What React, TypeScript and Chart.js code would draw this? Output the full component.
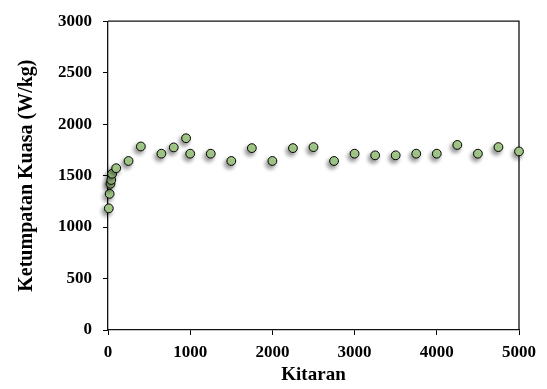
import React, { useEffect, useRef } from "react";
import { Chart, registerables } from "chart.js";

Chart.register(...registerables);

const cycles = [10, 20, 30, 40, 50, 100, 250, 400, 650, 800, 950, 1000, 1250, 1500, 1750, 2000, 2250, 2500, 2750, 3000, 3250, 3500, 3750, 4000, 4250, 4500, 4750, 5000];
const powerDensity = [1182, 1323, 1420, 1458, 1518, 1572, 1642, 1783, 1713, 1774, 1863, 1713, 1713, 1642, 1767, 1642, 1767, 1777, 1642, 1713, 1697, 1697, 1713, 1713, 1798, 1713, 1777, 1735];
const xTitle = "Kitaran";
const yTitle = "Ketumpatan Kuasa (W/kg)";
const xMin = 0, xMax = 5000, xStep = 1000;
const yMin = 0, yMax = 3000, yStep = 500;

const FONT = "'Liberation Serif', 'Times New Roman', serif";

const framePlugin = {
  id: "frame",
  beforeDatasetsDraw(chart: any) {
    const { ctx, chartArea } = chart;
    ctx.save();
    ctx.strokeStyle = "#111";
    ctx.lineWidth = 1.3;
    ctx.beginPath();
    ctx.moveTo(chartArea.left, chartArea.top);
    ctx.lineTo(chartArea.right, chartArea.top);
    ctx.lineTo(chartArea.right, chartArea.bottom);
    ctx.stroke();
    ctx.restore();
  },
  beforeDatasetDraw(chart: any) {
    const ctx = chart.ctx;
    ctx.save();
    ctx.shadowColor = "rgba(0,0,0,0.45)";
    ctx.shadowBlur = 4;
    ctx.shadowOffsetX = -2;
    ctx.shadowOffsetY = 3;
  },
  afterDatasetDraw(chart: any) {
    chart.ctx.restore();
  },
};

export default function App() {
  const ref = useRef<HTMLCanvasElement | null>(null);
  useEffect(() => {
    if (!ref.current) return;
    const chart = new Chart(ref.current, {
      type: "scatter",
      data: {
        datasets: [
          {
            data: cycles.map((x, i) => ({ x, y: powerDensity[i] })),
            backgroundColor: "#a9d18e",
            borderColor: "#000",
            borderWidth: 1,
            pointRadius: 4.4,
            clip: false as any,
          },
        ],
      },
      options: {
        animation: false,
        responsive: false,
        layout: { padding: { left: 0, right: 28, top: 17, bottom: 0 } },
        plugins: { legend: { display: false }, tooltip: { enabled: false } },
        scales: {
          x: {
            type: "linear",
            min: xMin,
            max: xMax,
            afterFit(scale: any) { scale.height = 59; },
            ticks: {
              stepSize: xStep,
              padding: 7,
              color: "#000",
              font: { family: FONT, size: 17, weight: "bold" },
              callback: (v: any) => String(v),
            },
            grid: { drawOnChartArea: false, tickLength: 5, color: "#000", tickColor: "#000" },
            border: { color: "#111", width: 1.3 },
            title: {
              display: true,
              text: xTitle,
              color: "#000",
              font: { family: FONT, size: 19, weight: "bold" },
              padding: { top: 0, bottom: 3 },
            },
          },
          y: {
            type: "linear",
            min: yMin,
            max: yMax,
            afterFit(scale: any) { scale.width = 108; },
            ticks: {
              stepSize: yStep,
              padding: 11,
              color: "#000",
              font: { family: FONT, size: 17, weight: "bold" },
              callback: (v: any) => String(v),
            },
            grid: { drawOnChartArea: false, tickLength: 5, color: "#000", tickColor: "#000" },
            border: { color: "#111", width: 1.3 },
            title: {
              display: true,
              text: yTitle,
              color: "#000",
              font: { family: FONT, size: 20, weight: "bold" },
              padding: { top: 15, bottom: 0 },
            },
          },
        },
      },
      plugins: [framePlugin],
    });
    return () => chart.destroy();
  }, []);
  return (
    <div style={{ position: "fixed", left: 0, top: 0, width: 547, height: 389, background: "#fff" }}>
      <canvas ref={ref} width={547} height={389} style={{ display: "block" }} />
    </div>
  );
}
